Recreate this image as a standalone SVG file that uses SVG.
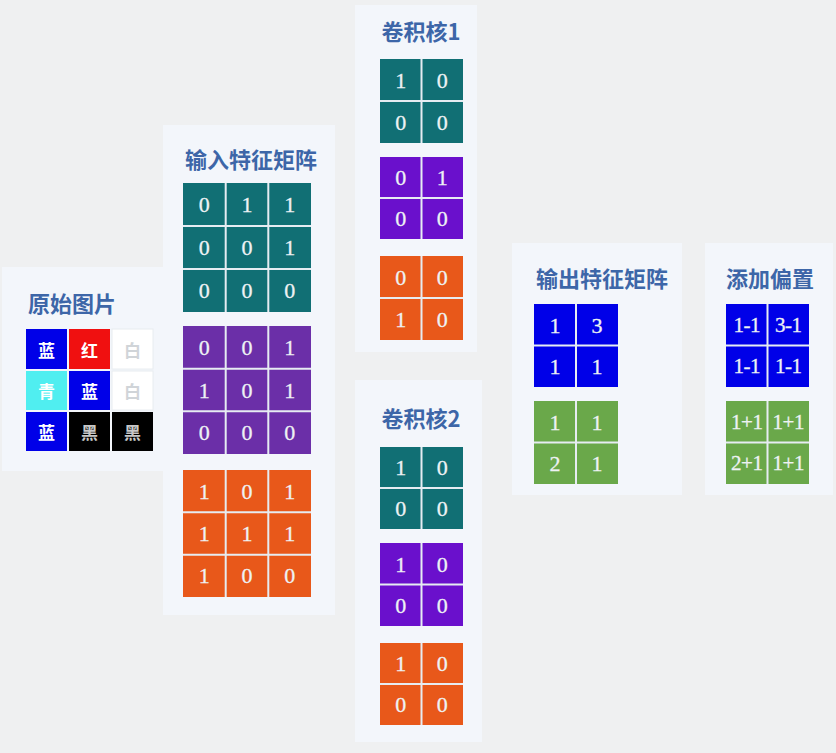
<svg xmlns="http://www.w3.org/2000/svg" width="836" height="753" viewBox="0 0 836 753">
<style>
.bg{fill:#eff0f1}
.panel{fill:#f3f6fb}
.title{font-family:"Noto Sans CJK SC","Noto Sans",sans-serif;font-size:22px;font-weight:bold;fill:#3d66a8;text-anchor:middle;dominant-baseline:central}
.num{font-family:"Liberation Serif","DejaVu Serif",serif;font-size:22px;fill:#eef2f4;text-anchor:middle;dominant-baseline:central;stroke:#eef2f4;stroke-width:0.3}
.bnum{font-family:"Liberation Serif","DejaVu Serif",serif;font-size:21px;letter-spacing:-0.5px;fill:#eef2f4;text-anchor:middle;dominant-baseline:central;stroke:#eef2f4;stroke-width:0.3}
.cj{font-family:"Noto Sans CJK SC",sans-serif;font-size:17px;font-weight:bold;fill:#ffffff;text-anchor:middle;dominant-baseline:central}
.sep{stroke:#e6ecf2;stroke-width:2}
.teal{fill:#116f74}
.purp{fill:#6b2fa8}
.viol{fill:#6a10cc}
.orng{fill:#e8581a}
.blue{fill:#0000e8}
.grn{fill:#6aa84a}
</style>
<rect class="bg" x="0" y="0" width="836" height="753"/>

<g id="original">
<rect class="panel" x="2" y="267" width="162" height="204"/>
<text class="title" x="72" y="302">原始图片</text>
<rect x="26" y="329" width="41" height="40" fill="#0000e8"/>
<rect x="69" y="329" width="41" height="40" fill="#f01010"/>
<rect x="112" y="329" width="41" height="40" fill="#ffffff" stroke="#e8ecf0"/>
<rect x="26" y="371" width="41" height="39" fill="#50eef0"/>
<rect x="69" y="371" width="41" height="39" fill="#0000e8"/>
<rect x="112" y="371" width="41" height="39" fill="#ffffff" stroke="#e8ecf0"/>
<rect x="26" y="412" width="41" height="39" fill="#0000e8"/>
<rect x="69" y="412" width="41" height="39" fill="#000000"/>
<rect x="112" y="412" width="41" height="39" fill="#000000"/>
<text class="cj" x="46.5" y="349">蓝</text>
<text class="cj" x="89.5" y="349">红</text>
<text class="cj" x="132.5" y="349" style="fill:#d0d4d8">白</text>
<text class="cj" x="46.5" y="390.5">青</text>
<text class="cj" x="89.5" y="390.5">蓝</text>
<text class="cj" x="132.5" y="390.5" style="fill:#d0d4d8">白</text>
<text class="cj" x="46.5" y="431.5">蓝</text>
<text class="cj" x="89.5" y="431.5" style="fill:#c8c8c8">黑</text>
<text class="cj" x="132.5" y="431.5" style="fill:#c8c8c8">黑</text>
</g>

<g id="input">
<rect class="panel" x="163" y="125" width="172" height="490"/>
<text class="title" x="251" y="158">输入特征矩阵</text>
<rect class="teal" x="183" y="183" width="128" height="129"/>
<line class="sep" x1="225.7" y1="183" x2="225.7" y2="312"/>
<line class="sep" x1="268.3" y1="183" x2="268.3" y2="312"/>
<line class="sep" x1="183" y1="226" x2="311" y2="226"/>
<line class="sep" x1="183" y1="269" x2="311" y2="269"/>
<text class="num" x="204.3" y="204.5">0</text><text class="num" x="247" y="204.5">1</text><text class="num" x="289.7" y="204.5">1</text>
<text class="num" x="204.3" y="247.5">0</text><text class="num" x="247" y="247.5">0</text><text class="num" x="289.7" y="247.5">1</text>
<text class="num" x="204.3" y="290.5">0</text><text class="num" x="247" y="290.5">0</text><text class="num" x="289.7" y="290.5">0</text>
<rect class="purp" x="183" y="326" width="128" height="128"/>
<line class="sep" x1="225.7" y1="326" x2="225.7" y2="454"/>
<line class="sep" x1="268.3" y1="326" x2="268.3" y2="454"/>
<line class="sep" x1="183" y1="368.7" x2="311" y2="368.7"/>
<line class="sep" x1="183" y1="411.3" x2="311" y2="411.3"/>
<text class="num" x="204.3" y="347.3">0</text><text class="num" x="247" y="347.3">0</text><text class="num" x="289.7" y="347.3">1</text>
<text class="num" x="204.3" y="390">1</text><text class="num" x="247" y="390">0</text><text class="num" x="289.7" y="390">1</text>
<text class="num" x="204.3" y="432.7">0</text><text class="num" x="247" y="432.7">0</text><text class="num" x="289.7" y="432.7">0</text>
<rect class="orng" x="183" y="470" width="128" height="127"/>
<line class="sep" x1="225.7" y1="470" x2="225.7" y2="597"/>
<line class="sep" x1="268.3" y1="470" x2="268.3" y2="597"/>
<line class="sep" x1="183" y1="512.3" x2="311" y2="512.3"/>
<line class="sep" x1="183" y1="554.7" x2="311" y2="554.7"/>
<text class="num" x="204.3" y="491.2">1</text><text class="num" x="247" y="491.2">0</text><text class="num" x="289.7" y="491.2">1</text>
<text class="num" x="204.3" y="533.5">1</text><text class="num" x="247" y="533.5">1</text><text class="num" x="289.7" y="533.5">1</text>
<text class="num" x="204.3" y="575.8">1</text><text class="num" x="247" y="575.8">0</text><text class="num" x="289.7" y="575.8">0</text>
</g>

<g id="kernel1">
<rect class="panel" x="355" y="5" width="122" height="347"/>
<text class="title" x="421" y="30">卷积核1</text>
<rect class="teal" x="380" y="59" width="83" height="84"/>
<line class="sep" x1="421.5" y1="59" x2="421.5" y2="143"/>
<line class="sep" x1="380" y1="101" x2="463" y2="101"/>
<text class="num" x="400.75" y="80">1</text><text class="num" x="442.25" y="80">0</text>
<text class="num" x="400.75" y="122">0</text><text class="num" x="442.25" y="122">0</text>
<rect class="viol" x="380" y="157" width="83" height="82"/>
<line class="sep" x1="421.5" y1="157" x2="421.5" y2="239"/>
<line class="sep" x1="380" y1="198" x2="463" y2="198"/>
<text class="num" x="400.75" y="177.5">0</text><text class="num" x="442.25" y="177.5">1</text>
<text class="num" x="400.75" y="218.5">0</text><text class="num" x="442.25" y="218.5">0</text>
<rect class="orng" x="380" y="256" width="83" height="84"/>
<line class="sep" x1="421.5" y1="256" x2="421.5" y2="340"/>
<line class="sep" x1="380" y1="298" x2="463" y2="298"/>
<text class="num" x="400.75" y="277">0</text><text class="num" x="442.25" y="277">0</text>
<text class="num" x="400.75" y="319">1</text><text class="num" x="442.25" y="319">0</text>
</g>

<g id="kernel2">
<rect class="panel" x="355" y="380" width="127" height="362"/>
<text class="title" x="421" y="417">卷积核2</text>
<rect class="teal" x="380" y="447" width="83" height="82"/>
<line class="sep" x1="421.5" y1="447" x2="421.5" y2="529"/>
<line class="sep" x1="380" y1="488" x2="463" y2="488"/>
<text class="num" x="400.75" y="467.5">1</text><text class="num" x="442.25" y="467.5">0</text>
<text class="num" x="400.75" y="508.5">0</text><text class="num" x="442.25" y="508.5">0</text>
<rect class="viol" x="380" y="543" width="83" height="83"/>
<line class="sep" x1="421.5" y1="543" x2="421.5" y2="626"/>
<line class="sep" x1="380" y1="584.5" x2="463" y2="584.5"/>
<text class="num" x="400.75" y="564">1</text><text class="num" x="442.25" y="564">0</text>
<text class="num" x="400.75" y="605">0</text><text class="num" x="442.25" y="605">0</text>
<rect class="orng" x="380" y="643" width="83" height="82"/>
<line class="sep" x1="421.5" y1="643" x2="421.5" y2="725"/>
<line class="sep" x1="380" y1="684" x2="463" y2="684"/>
<text class="num" x="400.75" y="663.5">1</text><text class="num" x="442.25" y="663.5">0</text>
<text class="num" x="400.75" y="704.5">0</text><text class="num" x="442.25" y="704.5">0</text>
</g>

<g id="output">
<rect class="panel" x="512" y="243" width="170" height="252"/>
<text class="title" x="602" y="277">输出特征矩阵</text>
<rect class="blue" x="534" y="304" width="84" height="83"/>
<line class="sep" x1="576" y1="304" x2="576" y2="387"/>
<line class="sep" x1="534" y1="345.5" x2="618" y2="345.5"/>
<text class="num" x="555" y="325">1</text><text class="num" x="597" y="325">3</text>
<text class="num" x="555" y="366">1</text><text class="num" x="597" y="366">1</text>
<rect class="grn" x="534" y="401" width="84" height="83"/>
<line class="sep" x1="576" y1="401" x2="576" y2="484"/>
<line class="sep" x1="534" y1="442.5" x2="618" y2="442.5"/>
<text class="num" x="555" y="422">1</text><text class="num" x="597" y="422">1</text>
<text class="num" x="555" y="463">2</text><text class="num" x="597" y="463">1</text>
</g>

<g id="bias">
<rect class="panel" x="705" y="243" width="128" height="252"/>
<text class="title" x="770" y="277">添加偏置</text>
<rect class="blue" x="726" y="304" width="83" height="83"/>
<line class="sep" x1="767.5" y1="304" x2="767.5" y2="387"/>
<line class="sep" x1="726" y1="345.5" x2="809" y2="345.5"/>
<text class="bnum" x="746.75" y="325">1-1</text><text class="bnum" x="788.25" y="325">3-1</text>
<text class="bnum" x="746.75" y="366">1-1</text><text class="bnum" x="788.25" y="366">1-1</text>
<rect class="grn" x="726" y="401" width="83" height="83"/>
<line class="sep" x1="767.5" y1="401" x2="767.5" y2="484"/>
<line class="sep" x1="726" y1="442.5" x2="809" y2="442.5"/>
<text class="bnum" x="746.75" y="422">1+1</text><text class="bnum" x="788.25" y="422">1+1</text>
<text class="bnum" x="746.75" y="463">2+1</text><text class="bnum" x="788.25" y="463">1+1</text>
</g>

<g id="connectors"></g>
</svg>
